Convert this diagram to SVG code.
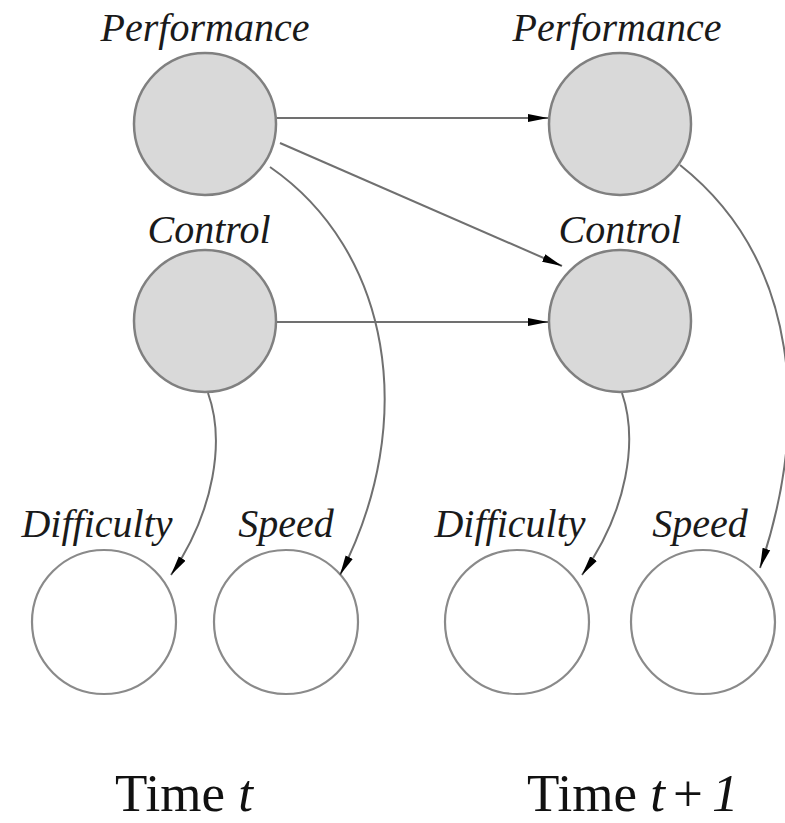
<svg xmlns="http://www.w3.org/2000/svg" width="785" height="823" viewBox="0 0 785 823">
<style>
.obs{fill:#d9d9d9;stroke:#808080;stroke-width:2.5}
.hid{fill:#ffffff;stroke:#8a8a8a;stroke-width:2.2}
.lbl{font-family:"Liberation Serif","Times New Roman",serif;font-style:italic;font-size:40px;fill:#1a1a1a;text-anchor:middle}
.time{font-family:"Liberation Serif","Times New Roman",serif;font-size:53px;fill:#111}
.edge{fill:none;stroke:#707070;stroke-width:2;marker-end:url(#ah)}
</style>
<defs>
<marker id="ah" viewBox="0 0 20 10" refX="20" refY="5" markerWidth="20" markerHeight="10" markerUnits="userSpaceOnUse" orient="auto">
<path d="M0,1 L20,5 L0,9 Z" fill="#000"/>
</marker>
</defs>
<rect width="785" height="823" fill="#fff"/>
<g id="perf_t"><circle class="obs" cx="205" cy="124" r="71"/><text class="lbl" x="205" y="41">Performance</text></g>
<g id="perf_t1"><circle class="obs" cx="620" cy="124" r="71"/><text class="lbl" x="617" y="41">Performance</text></g>
<g id="ctrl_t"><circle class="obs" cx="205" cy="321" r="71"/><text class="lbl" x="209" y="243">Control</text></g>
<g id="ctrl_t1"><circle class="obs" cx="620" cy="321" r="71"/><text class="lbl" x="620" y="243">Control</text></g>
<g id="diff_t"><circle class="hid" cx="104" cy="622" r="72"/><text class="lbl" x="97" y="537">Difficulty</text></g>
<g id="speed_t"><circle class="hid" cx="286" cy="622" r="72"/><text class="lbl" x="286" y="537">Speed</text></g>
<g id="diff_t1"><circle class="hid" cx="517" cy="622" r="72"/><text class="lbl" x="510" y="537">Difficulty</text></g>
<g id="speed_t1"><circle class="hid" cx="703" cy="622" r="72"/><text class="lbl" x="700" y="537">Speed</text></g>
<g id="connectors">
<path class="edge" d="M277,118 L548,118"/>
<path class="edge" d="M277,322 L548,322"/>
<path class="edge" d="M280,143 L562,266"/>
<path class="edge" d="M270,167 C390,250 420,420 340,575"/>
<path class="edge" d="M680,165 C800,260 810,420 760,568"/>
<path class="edge" d="M208,393 C225,440 215,510 171,575"/>
<path class="edge" d="M622,393 C638,440 628,510 582,575"/>
</g>
<g id="time_labels">
<text class="time" x="115" y="811">Time <tspan font-style="italic">t</tspan></text>
<text class="time" x="527" y="811">Time <tspan font-style="italic">t</tspan><tspan dx="8">+</tspan><tspan dx="9" font-style="italic">1</tspan></text>
</g>
</svg>
